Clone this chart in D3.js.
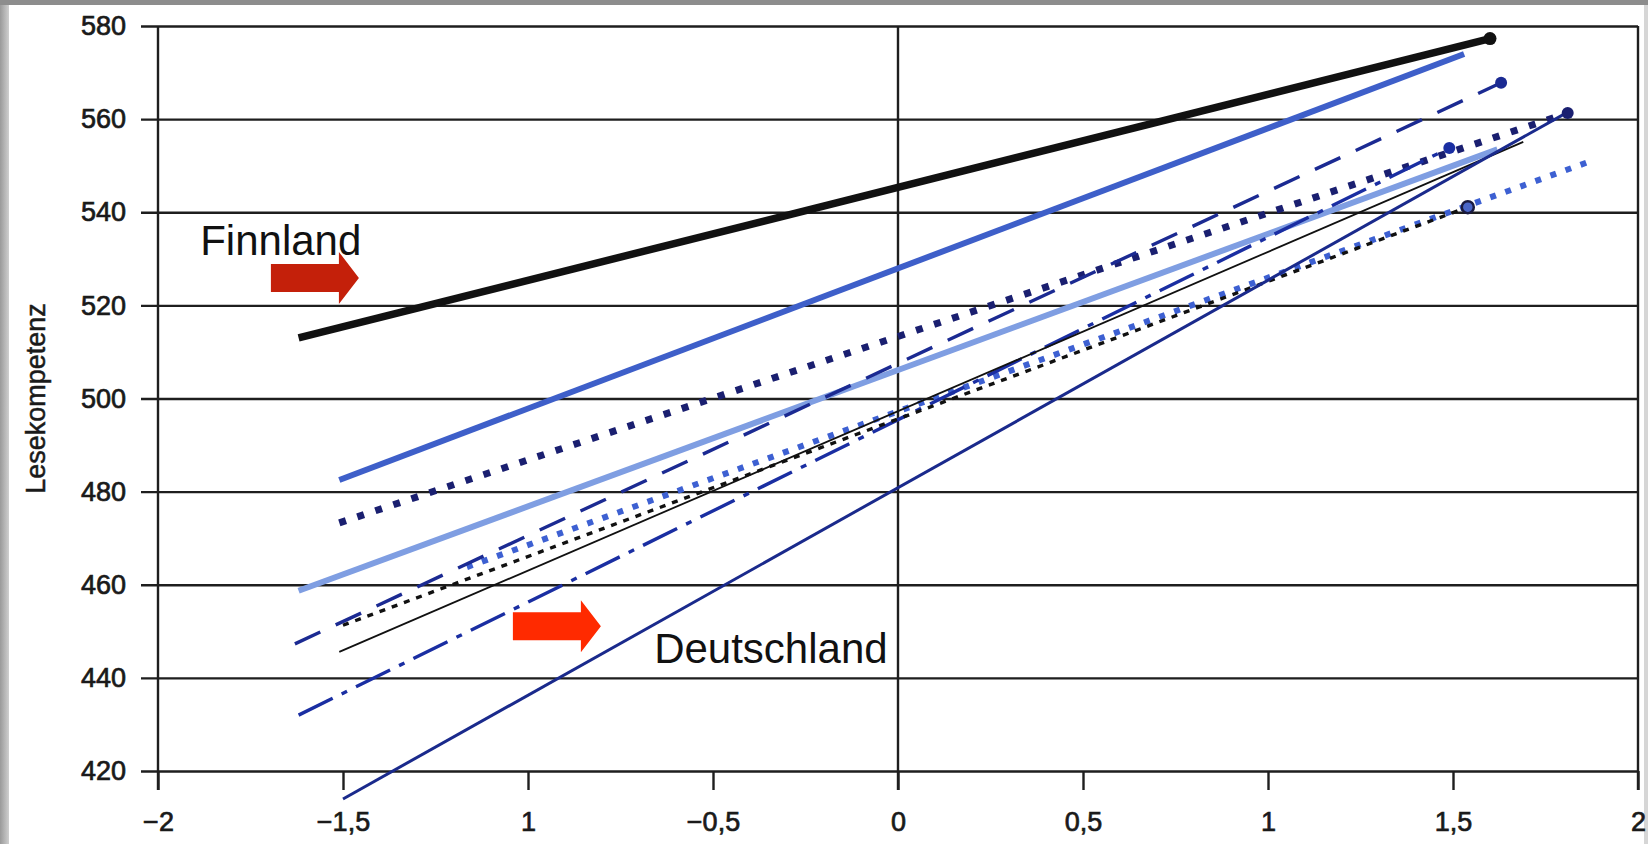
<!DOCTYPE html>
<html>
<head>
<meta charset="utf-8">
<script src="https://cdn.jsdelivr.net/npm/d3@7"></script>
<style>
  body { margin: 0; background: #fff; }
  svg { display: block; }
</style>
</head>
<body>
<div id="my_dataviz"></div>
<script>
// axis ticks
const xTicks = [-2, -1.5, -1, -0.5, 0, 0.5, 1, 1.5, 2];
const xTickLabels = ['\u22122', '\u22121,5', '1', '\u22120,5', '0', '0,5', '1', '1,5', '2'];
const yTicks = [420, 440, 460, 480, 500, 520, 540, 560, 580];

// regression lines (start and end of each country line)
const lineNames = ['Finnland', 'Land 2', 'Land 3', 'Land 4', 'Land 5', 'Land 6', 'Land 7', 'Land 8', 'Land 9', 'Deutschland'];
const xStart = [-1.62, -1.51, -1.63, -1.51, -1.62, -1.51, -1.5, -1.165, -1.62, -1.5];
const xEnd = [1.6, 1.53, 1.63, 1.81, 1.62, 1.69, 1.54, 1.88, 1.49, 1.81];
const yStart = [513, 482.5, 447.3, 473.3, 458.7, 445.6, 451.3, 463.8, 432, 414];
const yEnd = [577.3, 574, 567.8, 561.3, 553.5, 555.1, 541.1, 551.2, 553.8, 561.5];
const hasEndPoint = [true, false, true, true, false, false, true, false, true, false];

// labels with arrows (tip of arrow / text baseline start)
const annoText = ['Finnland', 'Deutschland'];
const annoTextX = [-1.886, -0.659];
const annoTextY = [530.8, 443.2];
const annoArrowX = [-1.457, -0.803];
const annoArrowY = [525.9, 451.1];

// line styles, same order as lineNames
const lineStyles = [
  { color: '#111111', width: 7.5, dash: null },
  { color: '#3e5fc9', width: 6, dash: null },
  { color: '#1b2a92', width: 3.4, dash: '28,17' },
  { color: '#1a1f70', width: 7, dash: '7,12' },
  { color: '#7f9ee2', width: 6, dash: null },
  { color: '#111111', width: 1.8, dash: null },
  { color: '#111111', width: 3.4, dash: '6,7' },
  { color: '#3d60d2', width: 6, dash: '6,10' },
  { color: '#1a2ea2', width: 3.4, dash: '38,10,6,10' },
  { color: '#1a2a8c', width: 3, dash: null },
];
const arrowColors = ['#c4200a', '#ff2a00'];

const W = 1648;
const H = 844;

const svg = d3
  .select('#my_dataviz')
  .append('svg')
  .attr('width', W)
  .attr('height', H);

// scan frame
const grad = svg.append('defs').append('linearGradient').attr('id', 'edge');
grad.append('stop').attr('offset', '0%').attr('stop-color', '#9a9a9a');
grad.append('stop').attr('offset', '100%').attr('stop-color', '#cfcfcf');
svg.append('rect').attr('width', W).attr('height', H).attr('fill', '#ffffff');
svg.append('rect').attr('width', W).attr('height', 5).attr('fill', '#8d8d8d');
svg.append('rect').attr('y', 5).attr('width', 9).attr('height', H - 5).attr('fill', 'url(#edge)');
svg.append('rect').attr('x', W - 4).attr('y', 5).attr('width', 4).attr('height', H - 5).attr('fill', '#d6d6d6');

const x = d3.scaleLinear().domain([-2, 2]).range([158, 1638]);
const y = d3.scaleLinear().domain([420, 580]).range([771, 26]);

const font = '"Liberation Sans", Arial, sans-serif';

// horizontal grid + y labels
const yAxis = svg
  .append('g')
  .attr('transform', 'translate(141,0)')
  .call(
    d3.axisLeft(y)
      .tickValues(yTicks)
      .tickSizeInner(-(x(2) - 141))
      .tickSizeOuter(0)
      .tickPadding(15),
  );
yAxis.select('.domain').remove();
yAxis.selectAll('line').attr('stroke', '#1e1e1e').attr('stroke-width', 2.4);
yAxis
  .selectAll('text')
  .style('font-family', font)
  .style('font-size', '27px')
  .attr('fill', '#1a1a1a')
  .attr('stroke', '#1a1a1a')
  .attr('stroke-width', 0.7);

// x ticks + labels
const xAxis = svg
  .append('g')
  .attr('transform', `translate(0,${y(420)})`)
  .call(
    d3.axisBottom(x)
      .tickValues(xTicks)
      .tickFormat((d, i) => xTickLabels[i])
      .tickSizeInner(19)
      .tickSizeOuter(0)
      .tickPadding(22),
  );
xAxis.select('.domain').remove();
xAxis.selectAll('line').attr('stroke', '#1e1e1e').attr('stroke-width', 2.4);
xAxis
  .selectAll('text')
  .style('font-family', font)
  .style('font-size', '27px')
  .attr('fill', '#1a1a1a')
  .attr('stroke', '#1a1a1a')
  .attr('stroke-width', 0.7);

// vertical frame lines at -2, 0, 2
svg
  .selectAll('.vline')
  .data([-2, 0, 2])
  .enter()
  .append('line')
  .attr('x1', (d) => x(d))
  .attr('x2', (d) => x(d))
  .attr('y1', y(580))
  .attr('y2', y(420) + 19)
  .attr('stroke', '#1e1e1e')
  .attr('stroke-width', 2.4);

// y label
svg
  .append('text')
  .attr('transform', `translate(45,${y(500)}) rotate(-90)`)
  .attr('text-anchor', 'middle')
  .style('font-family', font)
  .style('font-size', '27px')
  .attr('fill', '#1a1a1a')
  .attr('stroke', '#1a1a1a')
  .attr('stroke-width', 0.5)
  .text('Lesekompetenz');

// lines
const lines = lineNames.map((name, i) => ({
  name,
  x1: xStart[i],
  x2: xEnd[i],
  y1: yStart[i],
  y2: yEnd[i],
  dot: hasEndPoint[i],
  style: lineStyles[i],
}));
const order = [4, 1, 0, 3, 7, 2, 8, 6, 5, 9];

svg
  .append('g')
  .selectAll('line')
  .data(order.map((i) => lines[i]))
  .enter()
  .append('line')
  .attr('x1', (d) => x(d.x1))
  .attr('y1', (d) => y(d.y1))
  .attr('x2', (d) => x(d.x2))
  .attr('y2', (d) => y(d.y2))
  .attr('stroke', (d) => d.style.color)
  .attr('stroke-width', (d) => d.style.width)
  .attr('stroke-dasharray', (d) => d.style.dash);

svg
  .append('g')
  .selectAll('circle')
  .data(lines.filter((d) => d.dot))
  .enter()
  .append('circle')
  .attr('cx', (d) => x(d.x2))
  .attr('cy', (d) => y(d.y2))
  .attr('r', (d) => (d.name === 'Finnland' ? 6.5 : 6))
  .attr('fill', (d) => (d.name === 'Land 7' ? '#4a66c8' : d.style.color))
  .attr('stroke', (d) => (d.name === 'Land 7' ? '#1a1a40' : 'none'))
  .attr('stroke-width', 2.5);

// annotations
annoText.forEach((t, i) => {
  const tx = x(annoArrowX[i]);
  const ty = y(annoArrowY[i]);
  const pts = [
    [tx, ty],
    [tx - 20, ty - 26],
    [tx - 20, ty - 14],
    [tx - 88, ty - 14],
    [tx - 88, ty + 14],
    [tx - 20, ty + 14],
    [tx - 20, ty + 26],
  ];
  svg
    .append('polygon')
    .attr('points', pts.map((p) => p.join(',')).join(' '))
    .attr('fill', arrowColors[i]);
  svg
    .append('text')
    .attr('x', x(annoTextX[i]))
    .attr('y', y(annoTextY[i]))
    .style('font-family', font)
    .style('font-size', '42px')
    .attr('fill', '#111')
    .text(t);
});
</script>
</body>
</html>
